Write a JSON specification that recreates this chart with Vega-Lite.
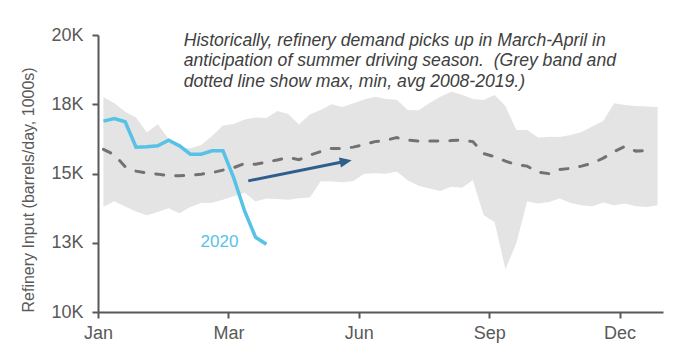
{
  "$schema": "https://vega.github.io/schema/vega-lite/v6.json",
  "width": 565,
  "height": 277,
  "autosize": "none",
  "padding": {"left": 98, "top": 35, "right": 33, "bottom": 46},
  "background": "white",
  "config": {
    "view": {"stroke": null},
    "font": "Liberation Sans",
    "axis": {"grid": false, "domainColor": "#595959", "domainWidth": 2, "tickColor": "#595959", "tickWidth": 2, "tickSize": 6, "labelColor": "#595959", "labelFont": "Liberation Sans", "labelFontSize": 18, "titleFont": "Liberation Sans", "titleColor": "#595959", "titleFontWeight": "normal"}
  },
  "datasets": {
    "band": [
      {"w": 0, "max": 17759, "min": 13802},
      {"w": 1, "max": 17532, "min": 14001},
      {"w": 2, "max": 17228, "min": 13809},
      {"w": 3, "max": 17026, "min": 13628},
      {"w": 4, "max": 16476, "min": 13495},
      {"w": 5, "max": 16776, "min": 13614},
      {"w": 6, "max": 16241, "min": 13748},
      {"w": 7, "max": 15927, "min": 13567},
      {"w": 8, "max": 15916, "min": 13795},
      {"w": 9, "max": 16025, "min": 13936},
      {"w": 10, "max": 16350, "min": 13946},
      {"w": 11, "max": 16729, "min": 14055},
      {"w": 12, "max": 16783, "min": 14181},
      {"w": 13, "max": 16946, "min": 14308},
      {"w": 14, "max": 17018, "min": 13990},
      {"w": 15, "max": 17000, "min": 14098},
      {"w": 16, "max": 17253, "min": 14080},
      {"w": 17, "max": 17145, "min": 14051},
      {"w": 18, "max": 16765, "min": 14109},
      {"w": 19, "max": 17127, "min": 14138},
      {"w": 20, "max": 17289, "min": 14716},
      {"w": 21, "max": 17499, "min": 14709},
      {"w": 22, "max": 17398, "min": 14680},
      {"w": 23, "max": 17532, "min": 14731},
      {"w": 24, "max": 17669, "min": 14987},
      {"w": 25, "max": 17770, "min": 15013},
      {"w": 26, "max": 17687, "min": 14995},
      {"w": 27, "max": 17665, "min": 15074},
      {"w": 28, "max": 17289, "min": 14760},
      {"w": 29, "max": 17279, "min": 14561},
      {"w": 30, "max": 17532, "min": 14460},
      {"w": 31, "max": 17770, "min": 14369},
      {"w": 32, "max": 17951, "min": 14518},
      {"w": 33, "max": 17842, "min": 14489},
      {"w": 34, "max": 17694, "min": 14760},
      {"w": 35, "max": 17651, "min": 13495},
      {"w": 36, "max": 17832, "min": 13253},
      {"w": 37, "max": 17434, "min": 11543},
      {"w": 38, "max": 16567, "min": 12483},
      {"w": 39, "max": 16567, "min": 14001},
      {"w": 40, "max": 16296, "min": 13918},
      {"w": 41, "max": 16325, "min": 13975},
      {"w": 42, "max": 16314, "min": 14098},
      {"w": 43, "max": 16386, "min": 13939},
      {"w": 44, "max": 16494, "min": 13856},
      {"w": 45, "max": 16693, "min": 13820},
      {"w": 46, "max": 16892, "min": 13954},
      {"w": 47, "max": 17532, "min": 13856},
      {"w": 48, "max": 17470, "min": 13918},
      {"w": 49, "max": 17441, "min": 13820},
      {"w": 50, "max": 17416, "min": 13795},
      {"w": 51, "max": 17398, "min": 13856}
    ],
    "avg": [
      {"w": 0, "v": 15873}, {"w": 1, "v": 15681}, {"w": 2, "v": 15248}, {"w": 3, "v": 15085},
      {"w": 4, "v": 15013}, {"w": 5, "v": 14977}, {"w": 6, "v": 14922}, {"w": 7, "v": 14915},
      {"w": 8, "v": 14940}, {"w": 9, "v": 14977}, {"w": 10, "v": 15031}, {"w": 11, "v": 15121},
      {"w": 12, "v": 15211}, {"w": 13, "v": 15363}, {"w": 14, "v": 15331}, {"w": 15, "v": 15410},
      {"w": 16, "v": 15490}, {"w": 17, "v": 15573}, {"w": 18, "v": 15501}, {"w": 19, "v": 15663},
      {"w": 20, "v": 15790}, {"w": 21, "v": 15905}, {"w": 22, "v": 15905}, {"w": 23, "v": 15952},
      {"w": 24, "v": 16043}, {"w": 25, "v": 16151}, {"w": 26, "v": 16205}, {"w": 27, "v": 16296},
      {"w": 28, "v": 16205}, {"w": 29, "v": 16169}, {"w": 30, "v": 16169}, {"w": 31, "v": 16176},
      {"w": 32, "v": 16187}, {"w": 33, "v": 16205}, {"w": 34, "v": 16151}, {"w": 35, "v": 15717},
      {"w": 36, "v": 15609}, {"w": 37, "v": 15446}, {"w": 38, "v": 15320}, {"w": 39, "v": 15266},
      {"w": 40, "v": 15049}, {"w": 41, "v": 14995}, {"w": 42, "v": 15146}, {"w": 43, "v": 15186},
      {"w": 44, "v": 15266}, {"w": 45, "v": 15374}, {"w": 46, "v": 15555}, {"w": 47, "v": 15790},
      {"w": 48, "v": 15978}, {"w": 49, "v": 15808}, {"w": 50, "v": 15826}
    ],
    "y2020": [
      {"w": 0, "v": 16892}, {"w": 1, "v": 16982}, {"w": 2, "v": 16867}, {"w": 3, "v": 15952},
      {"w": 4, "v": 15970}, {"w": 5, "v": 15999}, {"w": 6, "v": 16205}, {"w": 7, "v": 15999},
      {"w": 8, "v": 15699}, {"w": 9, "v": 15699}, {"w": 10, "v": 15819}, {"w": 11, "v": 15819},
      {"w": 12, "v": 14832}, {"w": 13, "v": 13639}, {"w": 14, "v": 12700}, {"w": 15, "v": 12447}
    ],
    "arrow": [{"x": 13.33, "y": 14734, "x2": 22.31, "y2": 15439}],
    "notes": [
      {"x": 7.39, "y": 19620, "label": "Historically, refinery demand picks up in March-April in\nanticipation of summer driving season.\u00a0 (Grey band and\ndotted line show max, min, avg 2008-2019.)"}
    ],
    "tag": [{"x": 10.68, "y": 12338, "label": "2020"}]
  },
  "layer": [
    {
      "data": {"name": "band"},
      "mark": {"type": "area", "color": "#e4e4e4", "opacity": 1},
      "encoding": {
        "x": {"field": "w", "type": "quantitative", "scale": {"domain": [-0.5, 51.5], "nice": false, "zero": false},
          "axis": {"title": null, "values": [-0.5, 11.5, 23.5, 35.5, 47.5], "labelExpr": "['Jan','Mar','Jun','Sep','Dec'][round((datum.value + 0.5) / 12)]", "labelDx": 5, "labelPadding": 6, "labelFlush": false}},
        "y": {"field": "max", "type": "quantitative", "scale": {"domain": [10000, 20000], "nice": false, "zero": false},
          "axis": {"title": "Refinery Input (barrels/day, 1000s)", "titleFontSize": 16, "titlePadding": 14, "titleAnchor": "start", "values": [10000, 12500, 15000, 17500, 20000], "labelExpr": "replace(format(datum.value, '.2s'), 'k', 'K')", "labelPadding": 9}},
        "y2": {"field": "min"}
      }
    },
    {
      "data": {"name": "avg"},
      "mark": {"type": "line", "color": "#767171", "strokeWidth": 3, "strokeDash": [8, 12], "strokeCap": "round"},
      "encoding": {
        "x": {"field": "w", "type": "quantitative"},
        "y": {"field": "v", "type": "quantitative"}
      }
    },
    {
      "data": {"name": "y2020"},
      "mark": {"type": "line", "color": "#56c3e6", "strokeWidth": 3.5},
      "encoding": {
        "x": {"field": "w", "type": "quantitative"},
        "y": {"field": "v", "type": "quantitative"}
      }
    },
    {
      "data": {"name": "arrow"},
      "mark": {"type": "rule", "color": "#2e5e8c", "strokeWidth": 3},
      "encoding": {
        "x": {"field": "x", "type": "quantitative"},
        "y": {"field": "y", "type": "quantitative"},
        "x2": {"field": "x2"},
        "y2": {"field": "y2"}
      }
    },
    {
      "data": {"name": "arrow"},
      "mark": {"type": "point", "shape": "M-1,-0.85L1,0L-1,0.85Z", "filled": true, "opacity": 1, "color": "#2e5e8c", "size": 144, "angle": -11.3},
      "encoding": {
        "x": {"field": "x2", "type": "quantitative"},
        "y": {"field": "y2", "type": "quantitative"}
      }
    },
    {
      "data": {"name": "notes"},
      "mark": {"type": "text", "align": "left", "baseline": "alphabetic", "fontSize": 17.6, "fontStyle": "italic", "color": "#404040", "lineBreak": "\n", "lineHeight": 20.5},
      "encoding": {
        "x": {"field": "x", "type": "quantitative"},
        "y": {"field": "y", "type": "quantitative"},
        "text": {"field": "label"}
      }
    },
    {
      "data": {"name": "tag"},
      "mark": {"type": "text", "align": "center", "baseline": "alphabetic", "fontSize": 17, "color": "#56c3e6"},
      "encoding": {
        "x": {"field": "x", "type": "quantitative"},
        "y": {"field": "y", "type": "quantitative"},
        "text": {"field": "label"}
      }
    }
  ]
}
